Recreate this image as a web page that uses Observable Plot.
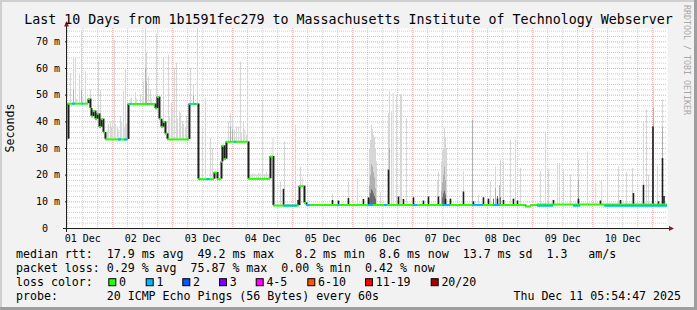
<!DOCTYPE html>
<html><head><meta charset="utf-8">
<script src="https://cdn.jsdelivr.net/npm/d3@7"></script>
<script src="https://cdn.jsdelivr.net/npm/@observablehq/plot@0.6"></script>
<style>
html,body{margin:0;padding:0;background:#f2f2f2;}
#wrap{position:relative;width:697px;height:310px;overflow:hidden;background:#f2f2f2;}
</style></head><body><div id="wrap"></div>
<script>
// ---------- data (December day number with fraction, ms) ----------
const periodStart = "2025-12-01T05:54:47Z";
const periodEnd = "2025-12-11T05:54:47Z";
const titleText = "Last 10 Days from 1b1591fec279 to Massachusetts Institute of Technology Webserver";
const yTicks = [0, 10, 20, 30, 40, 50, 60, 70];
const yTickLabels = ["0  ", "10 m", "20 m", "30 m", "40 m", "50 m", "60 m", "70 m"];
const xTickDays = [1.5, 2.5, 3.5, 4.5, 5.5, 6.5, 7.5, 8.5, 9.5, 10.5];
const xTickLabels = ["01 Dec", "02 Dec", "03 Dec", "04 Dec", "05 Dec", "06 Dec", "07 Dec", "08 Dec", "09 Dec", "10 Dec"];

// median rtt, step levels [day, ms]
const medianRtt = [
  [1.246, 33.5], [1.263, 46.8], [1.596, 48.5], [1.629, 45], [1.646, 42], [1.679, 44], [1.713, 41], [1.746, 43],
  [1.779, 38], [1.813, 41], [1.846, 36], [1.879, 33.4],
  [2.263, 46.7], [2.713, 45], [2.746, 49.3], [2.779, 41], [2.813, 38], [2.846, 40], [2.879, 35.5], [2.913, 33.4],
  [3.279, 46.7], [3.429, 18.5], [3.696, 21], [3.746, 18.5], [3.813, 25], [3.829, 31], [3.863, 26], [3.896, 32.5],
  [4.263, 18.6], [4.629, 27], [4.679, 8.6], [5.113, 15.9], [5.196, 9.6], [5.229, 8.8],
  [8.879, 8.3], [8.979, 8.8], [9.079, 9.0], [11.246, 9.0]
];
// median with 1 of 20 pings lost [from, to, ms]
const lossOneSegs = [
  [1.329, 1.379, 46.8], [1.496, 1.513, 46.8], [2.096, 2.146, 33.4], [2.196, 2.246, 33.4], [2.296, 2.313, 46.7],
  [2.58, 2.6, 46.7], [3.29, 3.31, 46.7], [3.36, 3.39, 46.7], [3.45, 3.47, 18.5], [3.57, 3.62, 18.5],
  [4.03, 4.06, 32.5], [4.85, 5.08, 8.6], [5.23, 5.3, 8.8], [5.76, 5.78, 8.8], [6.26, 6.35, 8.8], [6.53, 6.58, 8.8],
  [7.01, 7.08, 8.8], [7.5, 7.63, 8.8], [8.0, 8.18, 8.8], [8.35, 8.46, 8.8], [9.08, 9.35, 8.55], [9.68, 9.8, 8.55],
  [10.2, 11.246, 8.55]
];
// dense smoke (dark) [day, top ms]
const darkSmoke = [
  [4.846, 14.7], [5.09, 10.5], [5.663, 10.5], [5.763, 10.3], [5.929, 11.2], [6.179, 10.9], [6.263, 11.5], [6.596, 21.9],
  [6.763, 11.8], [6.846, 10.9], [7.013, 11.5], [7.179, 10.3], [7.263, 11.8], [7.429, 11.8], [7.546, 10.9], [7.629, 11],
  [7.846, 13.7], [8.013, 10], [8.179, 11.5], [8.263, 11], [8.413, 11], [8.513, 10.5], [8.679, 11], [8.746, 10.3],
  [9.346, 10.5], [9.763, 11], [10.129, 10.3], [10.463, 10.5], [10.679, 13.1], [10.846, 16.2], [11.004, 38.1],
  [11.096, 10], [11.163, 26.2], [11.188, 12]
];
// deep grey smoke close to the median [day, top ms]
const deepSmoke = [
  [6.279, 11], [6.296, 13], [6.313, 14.5], [6.329, 14], [6.346, 13], [6.363, 12], [6.379, 11],
  [7.496, 11.5], [7.513, 13], [7.529, 14], [7.546, 12.5], [8.346, 11], [8.413, 12], [8.463, 11.5], [10.996, 14]
];
// medium smoke [day, top ms]
const midSmoke = [
  [1.346, 52], [1.479, 52], [2.546, 60], [2.563, 55], [3.346, 50], [3.963, 38], [3.996, 37],
  [6.279, 16], [6.296, 20], [6.313, 24], [6.329, 23], [6.346, 21], [6.363, 19], [6.379, 15], [6.613, 30],
  [7.479, 14], [7.496, 17], [7.513, 20], [7.529, 23], [7.546, 18], [7.996, 40.6], [8.379, 15], [8.446, 16],
  [9.763, 18], [11.013, 45], [11.163, 38]
];
// light smoke [day, top ms]
const lightSmoke = [
  [1.3, 48.5], [1.4, 48.5], [1.5, 49], [1.55, 48.5],
  [1.296, 58], [1.346, 64.3], [1.379, 64], [1.446, 57.5], [1.479, 74], [1.546, 58.7], [1.629, 52], [1.763, 62.5], [1.796, 51.8],
  [1.91, 37], [1.93, 39], [1.98, 38], [2.0, 40], [2.05, 39], [2.1, 37], [2.15, 40], [2.2, 38], [2.23, 39],
  [1.963, 40], [2.029, 70.6], [2.079, 38], [2.129, 42], [2.179, 51.2], [2.213, 60], [2.246, 41],
  [2.3, 48.5], [2.4, 48.5], [2.5, 49], [2.65, 48.5],
  [2.313, 49], [2.379, 51], [2.463, 50], [2.513, 55], [2.546, 75], [2.563, 66], [2.596, 57], [2.629, 52], [2.729, 73],
  [2.95, 42], [3.0, 44], [3.08, 41], [3.13, 43], [3.18, 39], [3.23, 42], [3.26, 40],
  [2.846, 64], [2.929, 65], [2.979, 47], [3.029, 60], [3.063, 62], [3.113, 44], [3.163, 40], [3.213, 38],
  [3.296, 60], [3.346, 53.7], [3.413, 75],
  [3.496, 37.6], [3.546, 48.8], [3.629, 33.8], [3.663, 30],
  [3.93, 40], [4.0, 39], [4.03, 37], [4.1, 38], [4.15, 36], [4.2, 37], [4.23, 35],
  [3.963, 43], [3.996, 41.9], [4.063, 38], [4.129, 62.5], [4.179, 40], [4.246, 60.6],
  [4.3, 20], [4.36, 20.3], [4.4, 20], [4.46, 20.5], [4.53, 20.2], [4.6, 20],
  [4.329, 20.5], [4.429, 20.7], [4.496, 47.5], [4.563, 21],
  [4.67, 33.7], [4.796, 17.5], [4.863, 32.5], [5.046, 38.7], [5.13, 23], [5.16, 19], [5.663, 13], [5.929, 17.5], [6.079, 18.7],
  [6.279, 30], [6.296, 33], [6.313, 38.7], [6.329, 37], [6.346, 35], [6.363, 34], [6.379, 30], [6.396, 25], [6.463, 13.5],
  [6.596, 43.1], [6.613, 51.2], [6.646, 43.4], [6.674, 50.7], [6.729, 49.8], [6.796, 50.2], [6.813, 50], [6.896, 41.2],
  [7.413, 17.5], [7.429, 21.2], [7.479, 25], [7.496, 28.7], [7.513, 30], [7.529, 37.5], [7.546, 34], [7.563, 30],
  [7.846, 21.2], [7.996, 40.6], [8.096, 12.5], [8.296, 17.5], [8.379, 23.1], [8.463, 25.6], [8.513, 25], [8.629, 33.1],
  [8.713, 33.1], [8.796, 22.6],
  [9.129, 21.4], [9.213, 36.2], [9.263, 22], [9.413, 24.4], [9.446, 24.4], [9.513, 22], [9.629, 20], [9.763, 25.6], [9.913, 28.7],
  [10.05, 17], [10.15, 17.5], [10.246, 20], [10.429, 23.1], [10.563, 21], [10.663, 22.5], [10.846, 40], [10.896, 44.4],
  [10.929, 20], [11.013, 53.1], [11.079, 23], [11.163, 48.1]
];
// legend
const lossLegend = [["0", "#26ff00"], ["1", "#00b8ff"], ["2", "#0059ff"], ["3", "#7e00ff"], ["4-5", "#ff00ff"], ["6-10", "#ff5500"], ["11-19", "#ff0000"], ["20/20", "#a10000"]];
const legendRows = [
  "median rtt:  17.9 ms avg  49.2 ms max   8.2 ms min  8.6 ms now  13.7 ms sd  1.3   am/s",
  "packet loss: 0.29 % avg  75.87 % max  0.00 % min  0.42 % now",
  "loss color:",
  "probe:       20 ICMP Echo Pings (56 Bytes) every 60s"
];
const stampText = "Thu Dec 11 05:54:47 2025";
const watermark = "RRDTOOL / TOBI OETIKER";

// ---------- helpers ----------
const nb = s => s.replace(/ /g, "\u00a0");
const toDate = d => new Date(Date.UTC(2025, 11, 1) + (d - 1) * 864e5);
const t0 = new Date(periodStart), t1 = new Date(periodEnd);
const bis = d3.bisector(p => p[0]).right;
const baseAt = d => medianRtt[Math.max(0, bis(medianRtt, d) - 1)][1];
const segs = medianRtt.slice(0, -1).map((p, i) => ({a: p[0], b: medianRtt[i + 1][0], v: p[1]}));
const steps = medianRtt.slice(1).map((p, i) => ({d: p[0], from: medianRtt[i][1], to: p[1]}));
const minorY = d3.range(2, 75, 2).filter(v => v % 10 !== 0);
const majorY = yTicks.filter(v => v > 0);
const minorX = d3.utcHour.every(6).range(t0, t1).filter(t => t.getUTCHours() !== 0);
const majorX = d3.utcDay.range(t0, t1);
const xTickDates = xTickDays.map(toDate);

const smokeRule = (data, color, w) => Plot.ruleX(data, {
  x: p => toDate(p[0]), y1: p => baseAt(p[0]), y2: p => p[1], stroke: color, strokeWidth: w
});

const FONT = "'DejaVu Sans Mono', monospace";
const chart = Plot.plot({
  width: 697, height: 310,
  marginLeft: 67, marginRight: 30, marginTop: 28, marginBottom: 82,
  style: {background: "transparent", fontFamily: FONT, fontSize: "10px", color: "#000", overflow: "visible"},
  x: {type: "utc", domain: [t0, t1]},
  y: {domain: [0, 75]},
  marks: [
    Plot.frame({fill: "#ffffff", stroke: null}),
    Plot.ruleY(minorY, {stroke: "#8f8f8f", strokeOpacity: 0.45, strokeDasharray: "1,1"}),
    Plot.ruleX(minorX, {stroke: "#8f8f8f", strokeOpacity: 0.45, strokeDasharray: "1,1"}),
    Plot.ruleY(majorY, {stroke: "rgb(222,79,79)", strokeOpacity: 0.5, strokeDasharray: "1,1"}),
    Plot.ruleX(majorX, {stroke: "rgb(222,79,79)", strokeOpacity: 0.5, strokeDasharray: "1,1"}),
    smokeRule(lightSmoke, "#d6d6d6", 1),
    smokeRule(midSmoke, "#b0b0b0", 1),
    smokeRule(deepSmoke, "#6a6a6a", 1),
    smokeRule(darkSmoke, "#1f1f1f", 1.6),
    Plot.ruleX(steps, {x: s => toDate(s.d), y1: "from", y2: "to", stroke: "#1f1f1f", strokeWidth: 2}),
    Plot.ruleY(segs, {x1: s => toDate(s.a), x2: s => toDate(s.b), y: "v", stroke: "#26ff00", strokeWidth: 2}),
    Plot.ruleY(lossOneSegs, {x1: s => toDate(s[0]), x2: s => toDate(s[1]), y: s => s[2], stroke: "#00b8ff", strokeWidth: 2}),
    Plot.axisY(yTicks, {tickFormat: v => nb(yTickLabels[yTicks.indexOf(v)]), tickSize: 2, tickPadding: 5.5, label: null, stroke: "#1f1f1f", fontSize: 10}),
    Plot.axisX(xTickDates, {tickFormat: v => xTickLabels[xTickDates.findIndex(t => +t === +v)], tickSize: 0, tickPadding: 6, label: null, fontSize: 10})
  ]
});
document.getElementById("wrap").appendChild(chart);

// ---------- decorations ----------
const svg = d3.select(chart);
const xs = chart.scale("x"), ys = chart.scale("y");
const X0 = xs.apply(t0), X1 = xs.apply(t1), Y0 = ys.apply(0), Y1 = ys.apply(75);
const deco = svg.append("g").attr("text-anchor", "start");
const txt = (x, y, s, size, anchor = "start") => deco.append("text").attr("x", x).attr("y", y)
  .attr("text-anchor", anchor).style("font-family", FONT).style("font-size", size).attr("fill", "#000").text(nb(s));
// frame shading
deco.append("rect").attr("x", 0).attr("y", 0).attr("width", 697).attr("height", 2).attr("fill", "#cfcfcf");
deco.append("rect").attr("x", 0).attr("y", 0).attr("width", 2).attr("height", 310).attr("fill", "#cfcfcf");
deco.append("rect").attr("x", 0).attr("y", 307).attr("width", 697).attr("height", 3).attr("fill", "#9e9e9e");
deco.append("rect").attr("x", 694).attr("y", 0).attr("width", 3).attr("height", 310).attr("fill", "#9e9e9e");
// axes
deco.append("line").attr("x1", X0 - 4).attr("x2", X1 + 3).attr("y1", Y0 + 0.5).attr("y2", Y0 + 0.5).attr("stroke", "#1f1f1f");
deco.append("line").attr("x1", X0 - 0.5).attr("x2", X0 - 0.5).attr("y1", Y0 + 4).attr("y2", Y1 - 3).attr("stroke", "#1f1f1f");
deco.append("path").attr("d", `M${X1 + 2},${Y0 - 2} L${X1 + 7},${Y0 + 0.5} L${X1 + 2},${Y0 + 3} Z`).attr("fill", "#801f1f");
deco.append("path").attr("d", `M${X0 - 3},${Y1 - 1.5} L${X0 - 0.5},${Y1 - 7} L${X0 + 2},${Y1 - 1.5} Z`).attr("fill", "#801f1f");
// title
txt(348.5, 24.3, titleText, "13.3px", "middle");
// y label
deco.append("text").attr("transform", `translate(14.2,${(Y0 + Y1) / 2}) rotate(-90)`).attr("text-anchor", "middle")
  .style("font-family", FONT).style("font-size", "11.6px").attr("fill", "#000").text("Seconds");
// watermark
deco.append("text").attr("transform", "translate(684,5) rotate(90)").attr("text-anchor", "start")
  .style("font-family", FONT).style("font-size", "8.3px").attr("fill", "#a8a8a8").text(nb(watermark));
// legend rows
const rowY = [258.3, 272.3, 286.3, 300.3];
legendRows.forEach((r, i) => txt(16, rowY[i], r, "11.6px"));
const boxX = [108.3, 145.7, 182.3, 219, 255.7, 307.3, 365, 430.7];
lossLegend.forEach(([lab, col], i) => {
  deco.append("rect").attr("x", boxX[i] + 0.5).attr("y", 278.7).attr("width", 7).attr("height", 7)
    .attr("fill", col).attr("stroke", "#000").attr("stroke-width", 1);
  txt(boxX[i] + 10.7, rowY[2], lab, "11.6px");
});
txt(681, rowY[3], stampText, "11.6px", "end");
</script></body></html>
